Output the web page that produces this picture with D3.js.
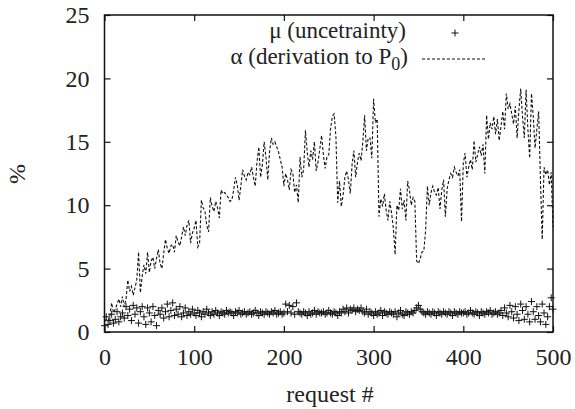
<!DOCTYPE html>
<html>
<head>
<meta charset="utf-8">
<script src="https://cdn.jsdelivr.net/npm/d3@7"></script>
<style>
  body { margin: 0; background: #fff; }
</style>
</head>
<body>
<div id="chart"></div>
<script>
// request numbers (every 2nd request)
var requests = d3.range(0, 501, 2);

// alpha: derivation to P0 (%)
var alphaValues = [
  0.8, 1.0, 0.9, 1.3, 2.3, 1.5, 1.8, 2.2, 2.6, 2.0, 2.8,
  2.0, 2.6, 4.1, 3.2, 3.6, 2.9, 3.5, 4.1, 6.3, 3.1,
  4.4, 5.3, 4.6, 6.3, 4.7, 5.6, 5.9, 5.0, 5.8, 6.5,
  5.4, 5.0, 6.2, 7.3, 6.6, 6.2, 6.8, 6.9, 6.3, 7.6,
  7.1, 6.8, 7.5, 8.3, 7.6, 8.4, 8.8, 7.0, 7.8, 8.2,
  8.8, 6.7, 7.0, 10.4, 9.8, 9.5, 8.4, 7.9, 10.6, 9.9,
  9.5, 10.3, 9.8, 9.0, 11.2, 10.9, 11.0, 10.8, 10.6, 10.3,
  10.4, 11.2, 12.2, 11.6, 10.4, 11.5, 12.8, 12.3, 12.0, 12.6,
  12.4, 13.0, 12.2, 11.5, 13.4, 14.6, 12.2, 13.2, 15.0, 13.8,
  12.0, 14.2, 15.3, 14.8, 15.0, 14.6, 14.2, 13.6, 13.0, 11.5,
  12.5, 12.0, 11.2, 12.8, 12.5, 11.0, 11.6, 10.2, 13.8, 12.2,
  12.8, 15.9, 14.2, 13.0, 14.3, 13.6, 15.0, 12.7, 13.4, 14.4,
  15.5, 14.0, 12.9, 13.8, 14.0, 16.0, 17.0, 17.2, 15.4, 10.2,
  11.9, 9.9, 10.8, 12.2, 12.7, 12.0, 10.9, 13.2, 14.3, 12.2,
  13.4, 14.1, 13.5, 15.0, 17.1, 14.3, 15.3, 15.3, 13.7, 18.4,
  16.5, 16.8, 9.1, 10.5, 9.9, 10.9, 9.6, 8.8, 10.3, 9.4,
  8.2, 6.1, 10.0, 9.6, 11.3, 9.7, 10.4, 8.8, 11.9, 11.2,
  10.0, 10.6, 10.3, 5.6, 5.4, 5.8, 6.3, 6.4, 8.0, 11.5,
  10.0, 11.0, 11.5, 11.0, 10.8, 11.4, 9.7, 11.2, 12.0, 9.1,
  11.3, 12.0, 12.5, 12.2, 13.0, 12.6, 12.3, 12.8, 8.7, 13.3,
  14.1, 12.2, 13.0, 13.6, 12.8, 15.1, 13.4, 14.0, 14.6, 13.9,
  14.8, 12.5, 17.1, 15.2, 16.5, 16.0, 17.0, 15.6, 16.8, 15.1,
  16.2, 17.4, 16.0, 18.8, 17.6, 18.0, 17.2, 16.4, 17.8, 15.3,
  17.5, 19.2, 17.0, 15.3, 19.1, 16.0, 13.7, 18.8, 17.0, 14.5,
  16.0, 17.4, 12.0, 7.3, 13.0, 12.4, 12.8, 11.6, 12.6, 8.3
];

// mu: uncertainty (%)
var muValues = [
  0.5, 1.2, 0.6, 0.9, 1.4, 0.7, 1.0, 1.6, 0.8, 1.2, 1.5,
  1.1, 2.0, 1.3, 1.8, 0.9, 2.1, 1.4, 1.9, 0.7, 1.6,
  2.0, 1.2, 0.6, 1.9, 1.5, 0.8, 2.0, 1.3, 0.5, 1.7,
  1.4, 1.9, 1.1, 1.6, 2.2, 1.2, 1.7, 2.3, 1.3, 1.8,
  1.4, 2.0, 1.2, 1.5, 1.9, 1.3, 1.6, 1.4, 1.8, 1.5,
  1.3, 1.7, 1.5, 1.2, 1.6, 1.4, 1.8, 1.5, 1.3, 1.6,
  1.4, 1.7, 1.5, 1.3, 1.6, 1.5, 1.4, 1.7, 1.5, 1.6,
  1.5, 1.3, 1.6, 1.5, 1.7, 1.4, 1.5, 1.6, 1.4, 1.5,
  1.6, 1.4, 1.5, 1.7, 1.5, 1.3, 1.6, 1.5, 1.4, 1.6,
  1.5, 1.4, 1.6, 1.5, 1.7, 1.4, 1.5, 1.6, 1.4, 1.5,
  2.2, 1.6, 2.1, 1.5, 2.0, 1.4, 2.3, 1.6, 1.5, 1.4,
  1.6, 1.5, 1.3, 1.6, 1.4, 1.5, 1.7, 1.4, 1.6, 1.5,
  1.5, 1.6, 1.4, 1.5, 1.7, 1.5, 1.4, 1.6, 1.5, 1.3,
  1.6, 1.5, 1.8, 1.6, 1.9, 1.5, 1.8, 1.7, 1.9, 1.6,
  1.8, 1.7, 1.9, 1.6, 1.5, 1.8, 1.4, 1.6, 1.5, 1.3,
  1.6, 1.4, 1.5, 1.7, 1.3, 1.6, 1.5, 1.4, 1.6, 1.5,
  1.4, 1.6, 1.2, 1.5, 1.7, 1.4, 1.3, 1.6, 1.5, 1.4,
  1.6, 1.5, 1.7, 1.9, 2.1, 1.8, 1.6, 1.5, 1.4, 1.6,
  1.5, 1.4, 1.6, 1.5, 1.3, 1.6, 1.5, 1.4, 1.6, 1.5,
  1.4, 1.6, 1.5, 1.3, 1.6, 1.5, 1.4, 1.6, 1.5, 1.5,
  1.6, 1.4, 1.5, 1.7, 1.5, 1.4, 1.6, 1.5, 1.3, 1.6,
  1.5, 1.4, 1.6, 1.5, 1.7, 1.4, 1.5, 1.6, 1.4, 1.5,
  1.7, 1.3, 1.9, 1.5, 1.2, 2.1, 1.6, 1.1, 2.0, 1.4,
  0.9, 2.2, 1.7, 1.0, 2.0, 1.4, 0.8, 2.4, 1.6, 1.0,
  2.0, 1.3, 0.8, 2.2, 1.5, 0.6, 1.2, 2.0, 2.7, 1.8
];

var xTicks = [0, 100, 200, 300, 400, 500];
var yTicks = [0, 5, 10, 15, 20, 25];

var serif = "'Liberation Serif'";

var width = 575, height = 409;
var margin = {top: 15, right: 22, bottom: 77, left: 104.5};
var chartWidth = width - margin.left - margin.right;
var chartHeight = height - margin.top - margin.bottom;

var svg = d3.select("#chart").append("svg")
    .attr("width", width)
    .attr("height", height);

var g = svg.append("g")
    .attr("transform", `translate(${margin.left}, ${margin.top})`);

var xScale = d3.scaleLinear().domain([0, 500]).range([0, chartWidth]);
var yScale = d3.scaleLinear().domain([0, 25]).range([chartHeight, 0]);

// inward ticks on all four sides, gnuplot style
var tickLen = 6;
g.append("g")
    .attr("transform", `translate(0,${chartHeight})`)
    .call(d3.axisBottom(xScale).tickValues(xTicks).tickSize(-tickLen).tickPadding(16).tickFormat(d3.format("d")))
    .call(a => a.select(".domain").remove());
g.append("g")
    .call(d3.axisTop(xScale).tickValues(xTicks).tickSize(-tickLen).tickFormat(""))
    .call(a => a.select(".domain").remove());
g.append("g")
    .call(d3.axisLeft(yScale).tickValues(yTicks).tickSize(-tickLen).tickPadding(15).tickFormat(d3.format("d")))
    .call(a => a.select(".domain").remove());
g.append("g")
    .attr("transform", `translate(${chartWidth},0)`)
    .call(d3.axisRight(yScale).tickValues(yTicks).tickSize(-tickLen).tickFormat(""))
    .call(a => a.select(".domain").remove());

g.selectAll(".tick line").attr("stroke", "#111").attr("stroke-width", 1.2);
g.selectAll(".tick text")
    .style("font-family", serif)
    .style("font-size", "24px")
    .attr("fill", "#222");

g.append("rect")
    .attr("width", chartWidth)
    .attr("height", chartHeight)
    .attr("fill", "none")
    .attr("stroke", "#111")
    .attr("stroke-width", 1.5);

// alpha dashed line
var alphaData = requests.map((r, i) => ({r: r, v: alphaValues[i]}));
var line = d3.line().x(d => xScale(d.r)).y(d => yScale(d.v));
g.append("path")
    .datum(alphaData)
    .attr("d", line)
    .attr("fill", "none")
    .attr("stroke", "#111")
    .attr("stroke-width", 1.1)
    .attr("stroke-dasharray", "3,2");

// mu plus markers
var muData = requests.map((r, i) => ({r: r, v: muValues[i]}));
var pl = 3.5;
g.append("g").selectAll("path")
    .data(muData)
    .join("path")
    .attr("d", `M${-pl},0H${pl}M0,${-pl}V${pl}`)
    .attr("transform", d => `translate(${xScale(d.r)},${yScale(d.v)})`)
    .attr("stroke", "#111")
    .attr("stroke-width", 1)
    .attr("fill", "none");

// legend
var legend = svg.append("g")
    .style("font-family", serif)
    .style("font-size", "23px")
    .attr("fill", "#222");
legend.append("text")
    .attr("x", 406).attr("y", 38)
    .attr("text-anchor", "end")
    .text("μ (uncetrainty)");
var t2 = legend.append("text")
    .attr("x", 408).attr("y", 64)
    .attr("text-anchor", "end");
t2.append("tspan").text("α (derivation to P");
t2.append("tspan").style("font-size", "18px").attr("dy", 6).text("0");
t2.append("tspan").attr("dy", -6).text(")");

legend.append("path")
    .attr("d", `M${455 - pl},33H${455 + pl}M455,${33 - pl}V${33 + pl}`)
    .attr("stroke", "#111");
legend.append("line")
    .attr("x1", 422).attr("x2", 487)
    .attr("y1", 59).attr("y2", 59)
    .attr("stroke", "#111")
    .attr("stroke-dasharray", "3,2");

// axis labels
svg.append("text")
    .attr("x", 330).attr("y", 402)
    .attr("text-anchor", "middle")
    .style("font-family", serif)
    .style("font-size", "24px")
    .attr("fill", "#222")
    .text("request #");
svg.append("text")
    .attr("transform", "translate(25,174) rotate(-90)")
    .attr("text-anchor", "middle")
    .style("font-family", serif)
    .style("font-size", "24px")
    .attr("fill", "#222")
    .text("%");
</script>
</body>
</html>
